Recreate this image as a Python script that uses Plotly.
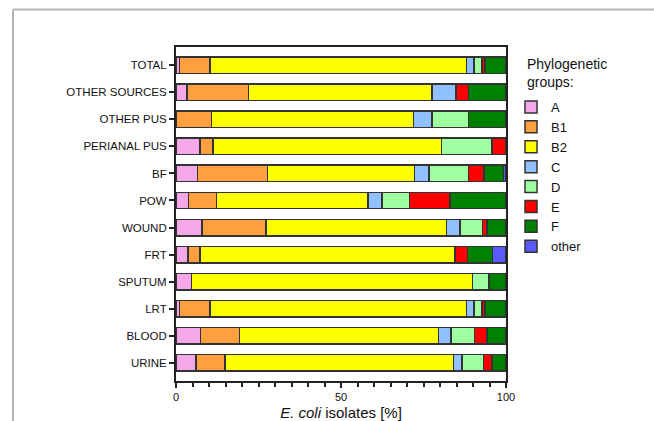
import plotly.graph_objects as go

categories = ["TOTAL", "OTHER SOURCES", "OTHER PUS", "PERIANAL PUS", "BF", "POW",
              "WOUND", "FRT", "SPUTUM", "LRT", "BLOOD", "URINE"]
groups = ["A", "B1", "B2", "C", "D", "E", "F", "other"]

A     = [1.0, 3.3, 0.0, 7.3, 6.5, 3.8, 7.9, 3.6, 4.7, 1.0, 7.4, 6.1]
B1    = [9.3, 18.6, 10.7, 3.9, 21.3, 8.4, 19.4, 3.7, 0.0, 9.3, 11.9, 8.8]
B2    = [77.7, 55.6, 61.3, 69.3, 44.5, 46.0, 54.7, 77.2, 85.1, 77.7, 60.3, 69.2]
C     = [2.3, 7.4, 5.5, 0.0, 4.3, 4.2, 4.1, 0.0, 0.0, 2.3, 3.7, 2.5]
D     = [2.4, 0.0, 11.1, 15.3, 12.0, 8.3, 6.8, 0.0, 5.1, 2.4, 7.1, 6.6]
E     = [1.0, 3.7, 0.0, 4.2, 4.8, 12.3, 1.4, 3.8, 0.0, 1.0, 3.9, 2.6]
F     = [6.3, 11.4, 11.4, 0.0, 5.8, 17.0, 5.7, 7.6, 5.1, 6.3, 5.7, 4.2]
other = [0.0, 0.0, 0.0, 0.0, 0.8, 0.0, 0.0, 4.1, 0.0, 0.0, 0.0, 0.0]

series = [A, B1, B2, C, D, E, F, other]
colors = ["#F5A8E8", "#FFA040", "#FFFF00", "#90C0FF", "#A0FFA0", "#FF0000", "#008000", "#5A5AFF"]

fig = go.Figure()
for name, vals, col in zip(groups, series, colors):
    fig.add_trace(go.Bar(
        y=categories, x=vals, name=name, orientation="h",
        marker=dict(color=col, line=dict(color="#333333", width=1.5)),
    ))

W, H = 654, 421
L, R, T, B = 176, 148, 47, 40
pw, ph = W - L - R, H - T - B

def px_x(p):
    return (p - L) / pw

def px_y(p):
    return (H - B - p) / ph

fig.update_layout(
    width=W, height=H,
    margin=dict(l=L, r=R, t=T, b=B, autoexpand=False),
    barmode="stack", bargap=0.39,
    plot_bgcolor="white", paper_bgcolor="white",
    font=dict(family="Liberation Sans, Arial, sans-serif", color="#111111"),
    showlegend=True,
    legend=dict(
        font=dict(size=13), traceorder="normal",
        x=px_x(511), y=px_y(92), xanchor="left", yanchor="top",
        tracegroupgap=0, itemwidth=30,
        bgcolor="rgba(0,0,0,0)",
    ),
    annotations=[dict(
        text="Phylogenetic<br>groups:", xref="paper", yref="paper",
        x=px_x(525), y=px_y(54), xanchor="left", yanchor="top", align="left",
        showarrow=False, font=dict(size=14),
    )],
    xaxis=dict(
        range=[0, 100], tickvals=[0, 50, 100], ticks="outside", ticklen=5, tickwidth=1.5,
        tickcolor="#222222", tickfont=dict(size=11), automargin=False,
        minor=dict(dtick=5, ticks="outside", ticklen=4, tickwidth=1.5, tickcolor="#222222"),
        showline=True, linecolor="#222222", linewidth=2, mirror=True,
        showgrid=False, zeroline=False,
        title=dict(text="<i>E. coli</i> isolates [%]", font=dict(size=15), standoff=6),
    ),
    yaxis=dict(
        type="category", categoryorder="array", categoryarray=categories,
        range=[11.68, -0.68], automargin=False,
        ticks="outside", ticklen=5, tickwidth=1.5, tickcolor="#222222",
        tickfont=dict(size=11.5),
        showline=True, linecolor="#222222", linewidth=2, mirror=True,
        showgrid=False, zeroline=False,
    ),
    shapes=[
        dict(type="line", xref="paper", yref="paper",
             x0=px_x(13), x1=px_x(660), y0=px_y(9.5), y1=px_y(9.5),
             line=dict(color="#b4b4b4", width=2)),
        dict(type="line", xref="paper", yref="paper",
             x0=px_x(13), x1=px_x(13), y0=px_y(9.5), y1=px_y(430),
             line=dict(color="#b4b4b4", width=2)),
    ],
)

fig.write_html("out.html", config={"displayModeBar": False},
               post_script="document.body.style.margin='0px';")
